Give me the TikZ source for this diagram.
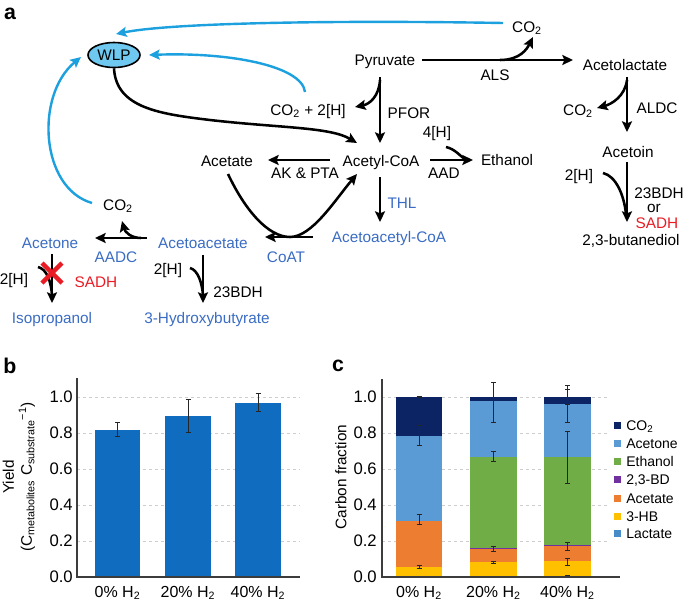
\documentclass[tikz,border=0pt]{standalone}
\usepackage{fontspec}
\setmainfont{Liberation Sans}
\usetikzlibrary{arrows.meta,shapes.geometric}
\definecolor{txtblue}{RGB}{58,108,196}
\definecolor{txtred}{RGB}{232,28,36}
\definecolor{cyanarr}{RGB}{28,160,222}
\definecolor{wlpfill}{RGB}{110,200,240}
\definecolor{barblue}{RGB}{16,108,190}
\definecolor{cco}{RGB}{12,36,100}
\definecolor{cacetone}{RGB}{91,155,213}
\definecolor{cethanol}{RGB}{112,173,71}
\definecolor{cbd}{RGB}{112,48,160}
\definecolor{cacetate}{RGB}{237,125,49}
\definecolor{chb}{RGB}{255,192,0}
\definecolor{clactate}{RGB}{70,140,200}
\definecolor{axisgray}{RGB}{60,60,60}
\definecolor{gridgray}{RGB}{205,205,205}
\tikzset{
  lbl/.style={font=\fontsize{11.5}{13}\selectfont, inner sep=0pt, anchor=base},
  bl/.style={lbl, text=txtblue},
  rd/.style={lbl, text=txtred},
  panel/.style={font=\fontsize{16}{18}\selectfont\bfseries, inner sep=0pt},
  tip/.style={-{Stealth[length=8pt,width=7.5pt,inset=1.5pt]}},
  arr/.style={line width=1.9pt, tip},
  hook/.style={line width=1.9pt},
  cy/.style={line width=1.8pt, draw=cyanarr, tip},
  ticklbl/.style={font=\fontsize{12.5}{14}\selectfont, inner sep=0pt, anchor=east},
  xlbl/.style={font=\fontsize{12}{14}\selectfont, inner sep=0pt, anchor=base},
  ytitle/.style={font=\fontsize{11.5}{13.5}\selectfont, inner sep=0pt, rotate=90, align=center},
  leg/.style={font=\fontsize{10.5}{12}\selectfont, inner sep=0pt, anchor=base west},
  gridl/.style={draw=gridgray, line width=0.6pt, dash pattern=on 2.5pt off 2pt},
  axisl/.style={draw=axisgray, line width=1.2pt},
  errb/.style={line width=0.6pt, draw=black!85},
}
\newcommand\ebar[3]{\draw[errb] (#1,#2) -- (#1,#3) (#1-2.5,#2) -- (#1+2.5,#2) (#1-2.5,#3) -- (#1+2.5,#3);}
\begin{document}
\begin{tikzpicture}[x=0.75pt,y=-0.75pt]
\useasboundingbox (0,0) rectangle (685,603);
% ================= panel a =================
\node[panel] (pa) at (10,14) {a};
\node[ellipse, draw, fill=wlpfill, line width=1.2pt, minimum width=39pt, minimum height=18.75pt, inner sep=0pt, font=\fontsize{11.5}{13}\selectfont] (wlp) at (114,55) {WLP};

\node[lbl] (pyr) at (385,65) {Pyruvate};
\node[lbl] (co2t) at (527,32) {CO\textsubscript{2}};
\node[lbl] (als) at (495,80) {ALS};
\node[lbl] (acl) at (625,70) {Acetolactate};
\node[lbl] (co2b) at (578,115) {CO\textsubscript{2}};
\node[lbl] (aldc) at (657,113) {ALDC};
\node[lbl] (acn) at (628,157) {Acetoin};
\node[lbl] (h2c) at (579,180) {2[H]};
\node[lbl] (bdh) at (659,198) {23BDH};
\node[lbl] (orr) at (654,212) {or};
\node[rd] (sadhc) at (657,228) {SADH};
\node[lbl] (bdl) at (631,245) {2,3-butanediol};
\node[lbl] (pfor) at (409,118) {PFOR};
\node[lbl] (co2h) at (308,115) {CO\textsubscript{2} + 2[H]};
\node[lbl] (h4) at (437,137) {4[H]};
\node[lbl] (eth) at (507,165) {Ethanol};
\node[lbl] (aad) at (444,178) {AAD};
\node[lbl] (acoa) at (381,166) {Acetyl-CoA};
\node[lbl] (ace) at (227,166) {Acetate};
\node[lbl] (akpta) at (305,178) {AK \& PTA};
\node[bl] (thl) at (402,208) {THL};
\node[bl] (aacoa) at (389,242) {Acetoacetyl-CoA};
\node[bl] (coat) at (286,262) {CoAT};
\node[bl] (aac) at (203,248) {Acetoacetate};
\node[bl] (acet) at (50,248) {Acetone};
\node[lbl] (co2a) at (118,210) {CO\textsubscript{2}};
\node[bl] (aadc) at (116,262) {AADC};
\node[lbl] (h2a) at (14,284) {2[H]};
\node[rd] (sadha) at (96,287) {SADH};
\node[bl] (iso) at (52,323) {Isopropanol};
\node[lbl] (h2b) at (168,274) {2[H]};
\node[lbl] (bdh2) at (238,297) {23BDH};
\node[bl] (hbt) at (207,323) {3-Hydroxybutyrate};

% connector end points
\coordinate (alsS) at (422,60);  \coordinate (alsE) at (573,60);
\coordinate (alsB) at (500,60);  \coordinate (co2tT) at (533,37);
\coordinate (pfS) at (380,77);   \coordinate (pfE) at (380,143);
\coordinate (pfB) at (380,80);   \coordinate (co2hT) at (355,107);
\coordinate (wlpE) at (357,143);
\coordinate (akS) at (330,160);  \coordinate (akE) at (268,160);
\coordinate (aadS) at (430,160); \coordinate (aadE) at (473,160);
\coordinate (h4S) at (446,147);  \coordinate (h4E) at (466,160);
\coordinate (thS) at (380,177);  \coordinate (thE) at (380,222);
\coordinate (coS) at (313,237);  \coordinate (coE) at (265,237);
\coordinate (uS) at (228,174);   \coordinate (uM) at (290,237);  \coordinate (uE) at (357,174);
\coordinate (adS) at (147,238);  \coordinate (adE) at (95,238);
\coordinate (adB) at (141,238);  \coordinate (co2aT) at (122,221);
\coordinate (saS) at (52,254);   \coordinate (saE) at (52,303);
\coordinate (h2aS) at (38,267);  \coordinate (h2aE) at (52,295);
\coordinate (bdS) at (203,255);  \coordinate (bdE) at (203,303);
\coordinate (h2bS) at (190,268); \coordinate (h2bE) at (203,295);
\coordinate (alS) at (627,77);   \coordinate (alE) at (627,132);
\coordinate (alB) at (627,80);   \coordinate (co2bT) at (597,108);
\coordinate (anS) at (627,162);  \coordinate (anE) at (627,222);
\coordinate (h2cS) at (603,173); \coordinate (h2cE) at (626,214);
\coordinate (b1S) at (503,23);   \coordinate (b1E) at (116,34);
\coordinate (b2S) at (305,92);   \coordinate (b2E) at (149,55);
\coordinate (b3S) at (92,203);   \coordinate (b3E) at (81,57);

% black connectors
\draw[arr] (alsS) -- (alsE);
\draw[arr] (alsB) .. controls (520,60) and (527,49) .. (co2tT);
\draw[arr] (pfS) -- (pfE);
\draw[arr] (pfB) .. controls (379,96) and (370,104) .. (co2hT);
\draw[arr] (wlp.south) .. controls (116,108) and (160,114) .. (210,120) .. controls (280,128) and (330,127) .. (wlpE);
\draw[arr] (akS) -- (akE);
\draw[arr] (aadS) -- (aadE);
\draw[hook] (h4S) .. controls (455,149) and (460,156) .. (h4E);
\draw[arr] (thS) -- (thE);
\draw[arr] (coS) -- (coE);
\draw[arr] (uS) .. controls (245,210) and (268,237) .. (uM) .. controls (312,237) and (335,200) .. (uE);
\draw[arr] (adS) -- (adE);
\draw[arr] (adB) .. controls (131,238) and (125,232) .. (co2aT);
\draw[arr] (saS) -- (saE);
\draw[hook] (h2aS) .. controls (47,269) and (51,282) .. (h2aE);
\draw[arr] (bdS) -- (bdE);
\draw[hook] (h2bS) .. controls (198,270) and (202,283) .. (h2bE);
\draw[arr] (alS) -- (alE);
\draw[arr] (alB) .. controls (625,96) and (612,104) .. (co2bT);
\draw[arr] (anS) -- (anE);
\draw[hook] (h2cS) .. controls (616,176) and (624,195) .. (h2cE);
% red cross
\draw[txtred, line width=3.2pt] (42,263) -- (62,283) (42,283) -- (62,263);
% blue connectors
\draw[cy] (b1S) .. controls (330,20) and (170,23) .. (b1E);
\draw[cy] (b2S) .. controls (302,66) and (230,52) .. (b2E);
\draw[cy] (b3S) .. controls (40,188) and (35,95) .. (b3E);

% ================= panel b =================
\node[panel] (pb) at (10,366) {b};
\node[ytitle] (ytb) at (19,477) {Yield\\(C\textsubscript{metabolites} C\textsubscript{substrate}\textsuperscript{−1})};
\begin{scope}[shift={(0,577)}, y=135pt]
  \foreach \v [count=\i] in {0.2,0.4,0.6,0.8,1.0} \draw[gridl] (77,\v) -- (300,\v);
  \fill[barblue] (95,0) rectangle (140,0.817);
  \fill[barblue] (165,0) rectangle (211,0.893);
  \fill[barblue] (235,0) rectangle (281,0.968);
  \ebar{117.5}{0.78}{0.86}
  \ebar{188}{0.805}{0.985}
  \ebar{258}{0.92}{1.02}
  \draw[axisl] (77,1.105) -- (77,0) -- (300,0);
  \foreach \v/\t [count=\i] in {0/0.0,0.2/0.2,0.4/0.4,0.6/0.6,0.8/0.8,1/1.0}
    \node[ticklbl] (bt\i) at (73,\v) {\t};
\end{scope}
\node[xlbl] (bx1) at (117.5,597) {0\% H\textsubscript{2}};
\node[xlbl] (bx2) at (188,597) {20\% H\textsubscript{2}};
\node[xlbl] (bx3) at (258,597) {40\% H\textsubscript{2}};

% ================= panel c =================
\node[panel] (pc) at (338,366) {c};
\node[ytitle] (ytc) at (341,477) {Carbon fraction};
\begin{scope}[shift={(0,577)}, y=135pt]
  \foreach \v [count=\i] in {0.2,0.4,0.6,0.8,1.0} \draw[gridl] (382,\v) -- (607,\v);
  % bar 1
  \fill[chb] (396,0) rectangle (442,0.055);
  \fill[cacetate] (396,0.055) rectangle (442,0.31);
  \fill[cacetone] (396,0.31) rectangle (442,0.785);
  \fill[cco] (396,0.785) rectangle (442,1.0);
  % bar 2
  \fill[clactate] (470,0) rectangle (517,0.004);
  \fill[chb] (470,0.004) rectangle (517,0.083);
  \fill[cacetate] (470,0.083) rectangle (517,0.155);
  \fill[cbd] (470,0.155) rectangle (517,0.162);
  \fill[cethanol] (470,0.162) rectangle (517,0.665);
  \fill[cacetone] (470,0.665) rectangle (517,0.978);
  \fill[cco] (470,0.978) rectangle (517,1.0);
  % bar 3
  \fill[clactate] (544,0) rectangle (591,0.008);
  \fill[chb] (544,0.008) rectangle (591,0.087);
  \fill[cacetate] (544,0.087) rectangle (591,0.17);
  \fill[cbd] (544,0.17) rectangle (591,0.176);
  \fill[cethanol] (544,0.176) rectangle (591,0.665);
  \fill[cacetone] (544,0.665) rectangle (591,0.962);
  \fill[cco] (544,0.962) rectangle (591,1.0);
  % error bars
  \ebar{419}{0.0}{0.002}
  \ebar{419}{0.05}{0.062}
  \ebar{419}{0.29}{0.35}
  \ebar{419}{0.73}{0.84}
  \ebar{419}{0.998}{1.001}
  \ebar{493.5}{0.0}{0.004}
  \ebar{493.5}{0.077}{0.088}
  \ebar{493.5}{0.14}{0.17}
  \ebar{493.5}{0.64}{0.70}
  \ebar{493.5}{0.86}{1.08}
  \ebar{567.5}{0.002}{0.008}
  \ebar{567.5}{0.067}{0.105}
  \ebar{567.5}{0.15}{0.19}
  \ebar{567.5}{0.52}{0.81}
  \ebar{567.5}{0.86}{1.065}
  \ebar{567.5}{0.96}{1.04}
  \draw[axisl] (382,1.1) -- (382,0) -- (620,0);
  \foreach \v/\t [count=\i] in {0/0.0,0.2/0.2,0.4/0.4,0.6/0.6,0.8/0.8,1/1.0}
    \node[ticklbl] (ct\i) at (377,\v) {\t};
\end{scope}
\node[xlbl] (cx1) at (419,597) {0\% H\textsubscript{2}};
\node[xlbl] (cx2) at (493.5,597) {20\% H\textsubscript{2}};
\node[xlbl] (cx3) at (567.5,597) {40\% H\textsubscript{2}};
% legend
\foreach \c/\t/\y [count=\i] in {cco/{CO\textsubscript{2}}/425, cacetone/Acetone/443, cethanol/Ethanol/461, cbd/{2,3-BD}/479, cacetate/Acetate/498, chb/{3-HB}/516, clactate/Lactate/533}{
  \fill[\c] (614,\y-3.5) rectangle (621,\y+3.5);
  \node[leg] (lg\i) at (626,\y+5) {\t};
}
\end{tikzpicture}
\end{document}
